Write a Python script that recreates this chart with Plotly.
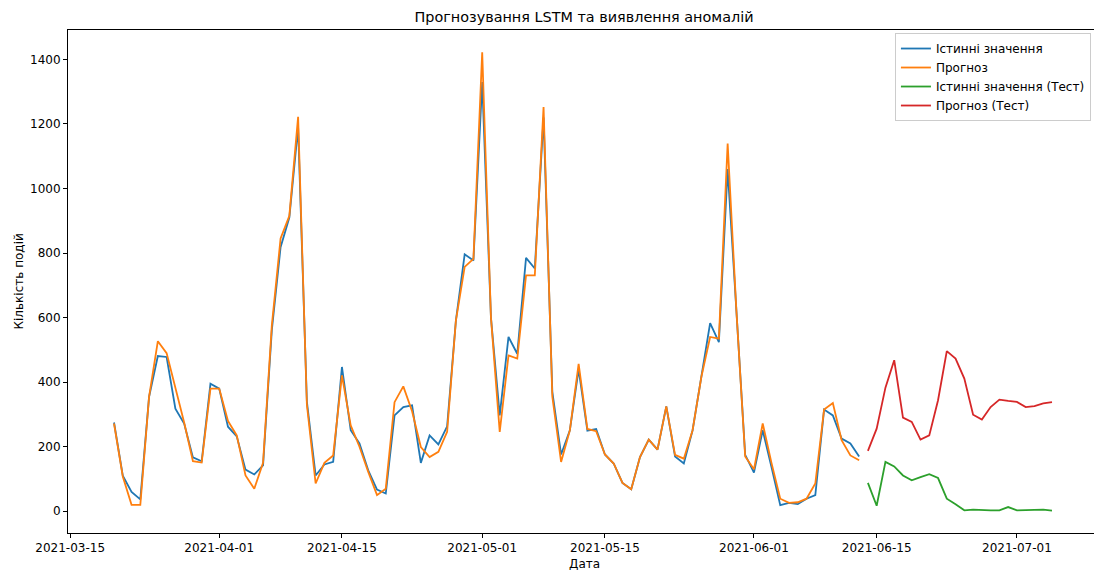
import pandas as pd
import plotly.graph_objects as go

# ---- data ----
train_start = "2021-03-20"
true_values = [275, 110, 60, 37, 355, 481, 478, 318, 272, 167,
               155, 395, 380, 262, 232, 129, 114, 142, 560, 818,
               910, 1190, 340, 111, 145, 153, 447, 251, 210, 127,
               67, 55, 297, 323, 328, 150, 235, 207, 263, 591,
               796, 777, 1330, 600, 297, 540, 488, 785, 752, 1220,
               370, 176, 251, 440, 250, 255, 176, 148, 88, 68,
               168, 222, 191, 325, 170, 148, 251, 416, 583, 524,
               1060, 620, 175, 120, 251, 137, 19, 26, 22, 39,
               50, 315, 297, 225, 210, 170]
pred_values = [272, 108, 20, 20, 355, 527, 490, 385, 275, 155,
               151, 380, 380, 280, 235, 111, 70, 150, 575, 845,
               915, 1222, 330, 86, 150, 173, 421, 266, 200, 122,
               50, 70, 338, 387, 310, 199, 168, 184, 246, 591,
               757, 782, 1422, 600, 246, 483, 473, 731, 731, 1252,
               355, 153, 251, 457, 255, 248, 176, 148, 88, 68,
               168, 222, 191, 325, 175, 163, 251, 416, 540, 535,
               1139, 620, 170, 130, 272, 150, 39, 26, 28, 39,
               86, 315, 335, 220, 173, 158]

test_start = "2021-06-14"
test_true = [88, 17, 153, 139, 111, 96, 106, 115, 103, 39,
             22, 3, 5, 3, 3, 3, 13, 3, 3, 5,
             5, 2]
test_pred = [187, 256, 383, 468, 290, 277, 222, 235, 344, 496,
             473, 411, 299, 284, 323, 346, 342, 339, 323, 326,
             334, 338]

x_ticks = ["2021-03-15", "2021-04-01", "2021-04-15", "2021-05-01",
           "2021-05-15", "2021-06-01", "2021-06-15", "2021-07-01"]
y_ticks = [0, 200, 400, 600, 800, 1000, 1200, 1400]

train_dates = pd.date_range(train_start, periods=len(true_values), freq="D")
test_dates = pd.date_range(test_start, periods=len(test_true), freq="D")

FONT = "DejaVu Sans"
fig = go.Figure()
fig.add_trace(go.Scatter(x=train_dates, y=true_values, mode="lines",
                         name="Істинні значення", line=dict(color="#1f77b4", width=1.8)))
fig.add_trace(go.Scatter(x=train_dates, y=pred_values, mode="lines",
                         name="Прогноз", line=dict(color="#ff7f0e", width=1.8)))
fig.add_trace(go.Scatter(x=test_dates, y=test_true, mode="lines",
                         name="Істинні значення (Тест)", line=dict(color="#2ca02c", width=1.8)))
fig.add_trace(go.Scatter(x=test_dates, y=test_pred, mode="lines",
                         name="Прогноз (Тест)", line=dict(color="#d62728", width=1.8)))

fig.update_layout(
    width=1094, height=571,
    margin=dict(l=68, r=0, t=30, b=38, pad=0),
    paper_bgcolor="white", plot_bgcolor="white",
    font=dict(family=FONT, size=12, color="#000"),
    title=dict(text="Прогнозування LSTM та виявлення аномалій",
               x=584 / 1094, xanchor="center", y=1 - 17 / 571, yanchor="middle",
               font=dict(family=FONT, size=14.4, color="#000")),
    legend=dict(x=0.997, xanchor="right", y=0.994, yanchor="top",
                bgcolor="rgba(255,255,255,0.8)", bordercolor="#cccccc", borderwidth=1,
                font=dict(family=FONT, size=12, color="#000"), itemwidth=30,
                tracegroupgap=0),
    showlegend=True,
)
fig.update_xaxes(
    range=["2021-03-14 18:00", "2021-07-09 19:00"],
    tickvals=x_ticks, tickformat="%Y-%m-%d",
    showgrid=False, zeroline=False,
    showline=True, linecolor="#000", linewidth=1, mirror=True,
    ticks="outside", ticklen=4, tickcolor="#000", tickwidth=1,
    tickfont=dict(family=FONT, size=12, color="#000"),
)
fig.update_yaxes(
    range=[-67.3, 1491],
    tickvals=y_ticks,
    showgrid=False, zeroline=False,
    showline=True, linecolor="#000", linewidth=1,
    ticks="outside", ticklen=4, tickcolor="#000", tickwidth=1,
    tickfont=dict(family=FONT, size=12, color="#000"),
)
fig.add_annotation(text="Кількість подій", xref="paper", yref="paper",
                   x=(18 - 68) / 1026, y=0.5, xanchor="center", yanchor="middle",
                   textangle=-90, showarrow=False,
                   font=dict(family=FONT, size=12, color="#000"))
fig.add_annotation(text="Дата", xref="paper", yref="paper",
                   x=(584 - 68) / 1026, y=(533 - 564) / 503, xanchor="center", yanchor="middle",
                   showarrow=False, font=dict(family=FONT, size=12, color="#000"))

fig.write_html("out.html")
